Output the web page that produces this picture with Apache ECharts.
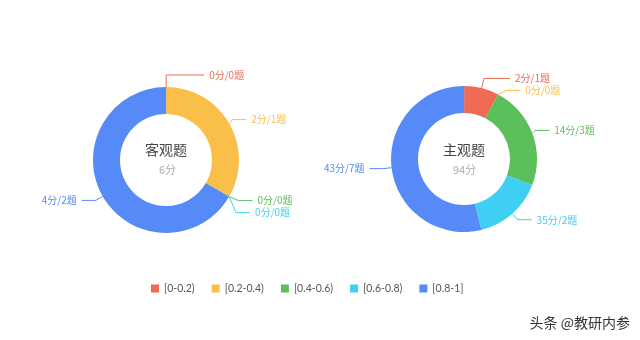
<!DOCTYPE html>
<html><head><meta charset="utf-8">
<script src="https://cdn.jsdelivr.net/npm/echarts@6/dist/echarts.min.js"></script>
<style>html,body{margin:0;padding:0;background:#fff}#c{width:640px;height:340px}</style>
</head><body><div id="c"></div>
<script>
const categories = ['[0-0.2)', '[0.2-0.4)', '[0.4-0.6)', '[0.6-0.8)', '[0.8-1]'];
const objScores = [0, 2, 0, 0, 4];
const objCounts = [0, 1, 0, 0, 2];
const subjScores = [2, 0, 14, 35, 43];
const subjCounts = [1, 0, 3, 2, 7];
const colors = ['#ef6b53', '#f9bf48', '#5bbf5b', '#3ecff2', '#568bf7'];

const chart = echarts.init(document.getElementById('c'), null, {renderer: 'canvas'});
function mkSeries(name, center, scores, counts, firstLine) {
  return {
    name: name, type: 'pie', center: center, radius: [46, 73],
    startAngle: 89.9,
    avoidLabelOverlap: true,
    label: {
      formatter: p => scores[p.dataIndex] + '分/' + counts[p.dataIndex] + '题',
      fontSize: 10, color: 'inherit',
      fontFamily: '"Noto Sans CJK SC", sans-serif'
    },
    labelLine: {length: 8, length2: 14, lineStyle: {width: 1}},
    emphasis: {scale: false},
    data: categories.map((c, i) => {
      const d = {name: c, value: counts[i]};
      if (i === 0 && firstLine) d.labelLine = firstLine;
      return d;
    })
  };
}
const scoreSum = a => a.reduce((s, v) => s + v, 0);
chart.setOption({
  animation: false,
  color: colors,
  legend: {
    data: categories, bottom: 41, left: 146, icon: 'rect',
    itemWidth: 8, itemHeight: 8, itemGap: 17,
    textStyle: {fontSize: 10.5, color: '#555', fontFamily: 'Lato, sans-serif'}
  },
  graphic: [
    {type: 'text', left: 166 - 21, top: 143, style: {text: '客观题', fill: '#444', font: '14px "Noto Sans CJK SC"'}},
    {type: 'text', left: 159, top: 164, style: {text: scoreSum(objScores) + '分', fill: '#aaa', font: '11px "Noto Sans CJK SC"'}},
    {type: 'text', left: 464 - 21, top: 143, style: {text: '主观题', fill: '#444', font: '14px "Noto Sans CJK SC"'}},
    {type: 'text', left: 453, top: 164, style: {text: scoreSum(subjScores) + '分', fill: '#aaa', font: '11px "Noto Sans CJK SC"'}},
    {type: 'text', right: 10, bottom: 10, style: {text: '头条 @教研内参', fill: '#333', font: '14px "Noto Sans CJK SC"'}}
  ],
  series: [
    mkSeries('客观题', [166, 160], objScores, objCounts, {length: 12, length2: 38}),
    mkSeries('主观题', [464, 159], subjScores, subjCounts, {length: 10, length2: 26})
  ]
});
</script></body></html>
